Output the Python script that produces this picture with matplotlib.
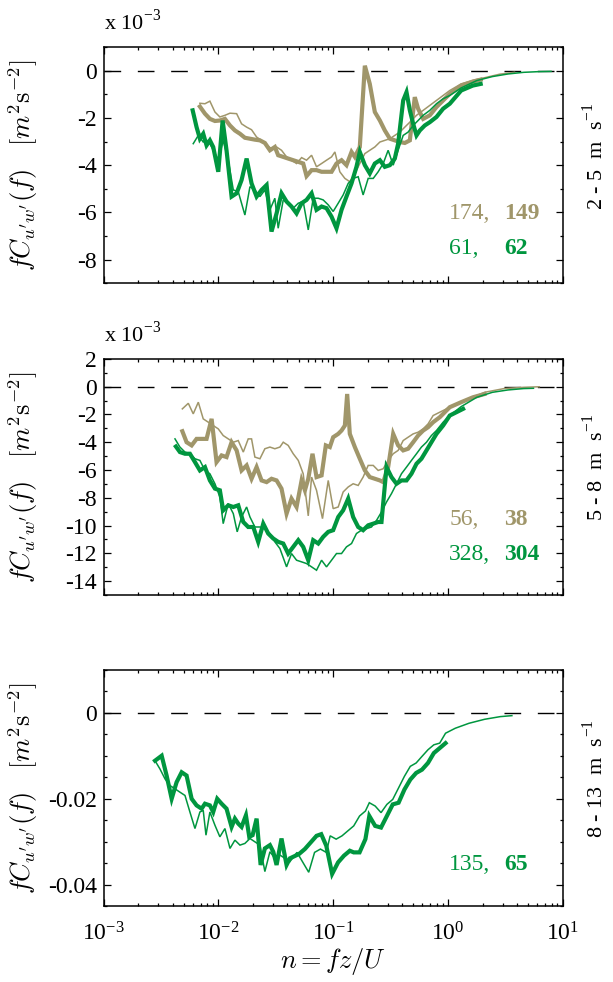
import numpy as np
import matplotlib
matplotlib.use('Agg')
import matplotlib.pyplot as plt
from matplotlib.ticker import MultipleLocator, LogLocator, NullFormatter

plt.rcParams['font.family'] = ['Liberation Serif', 'DejaVu Serif']
plt.rcParams['mathtext.fontset'] = 'cm'
plt.rcParams['axes.unicode_minus'] = False

TAN = '#A0966A'
GREEN = '#00963F'

# ---- 2 - 5 m/s  (cospectra in units of 1e-3 m2 s-2), x given as log10(n)
p1_tan_thin_lg = [-2.161, -2.117, -2.074, -2.030, -1.987, -1.943, -1.899, -1.841, -1.798, -1.754,
                  -1.711, -1.667, -1.624, -1.580, -1.537, -1.493, -1.450, -1.406, -1.363, -1.319,
                  -1.275, -1.232, -1.188, -1.145, -1.101, -1.058, -1.014, -0.985, -0.942, -0.898,
                  -0.855, -0.811, -0.768, -0.724, -0.681, -0.637, -0.593, -0.550, -0.506, -0.463,
                  -0.419, -0.376, -0.332, -0.274, -0.216, -0.158, -0.100, -0.042, 0.016, 0.115,
                  0.234, 0.336, 0.45, 0.58]
p1_tan_thin = [-1.38, -1.40, -1.29, -1.75, -1.96, -1.89, -1.80, -1.82, -2.25, -2.39,
               -2.50, -2.81, -2.95, -3.16, -3.30, -3.23, -3.37, -3.65, -3.79, -3.93,
               -3.68, -3.79, -3.58, -4.07, -3.93, -3.79, -3.65, -3.44, -4.28, -4.56,
               -4.70, -4.35, -3.93, -3.51, -3.37, -3.23, -3.02, -2.95, -2.88, -2.74,
               -2.60, -2.39, -2.18, -1.89, -1.68, -1.47, -1.26, -1.05, -0.84, -0.56,
               -0.39, -0.28, -0.15, -0.07]
p1_tan_thick_lg = [-2.161, -2.117, -2.074, -2.030, -1.987, -1.943, -1.899, -1.856, -1.812, -1.769,
                   -1.725, -1.682, -1.638, -1.595, -1.551, -1.508, -1.479, -1.435, -1.392, -1.348,
                   -1.304, -1.261, -1.232, -1.188, -1.145, -1.101, -1.058, -1.014, -0.971, -0.927,
                   -0.884, -0.840, -0.811, -0.768, -0.724, -0.681, -0.637, -0.593, -0.550, -0.506,
                   -0.463, -0.419, -0.376, -0.332, -0.289, -0.260, -0.216, -0.158, -0.100, -0.042,
                   0.016, 0.115, 0.217, 0.285]
p1_tan_thick = [-1.52, -1.82, -2.04, -2.13, -2.11, -2.04, -2.32, -2.53, -2.67, -2.84,
                -2.88, -2.92, -2.95, -3.06, -3.37, -3.23, -3.58, -3.65, -3.72, -3.79,
                -3.86, -3.93, -4.46, -4.21, -4.21, -4.28, -4.28, -4.28, -3.93, -3.79,
                -4.00, -3.44, -3.65, -3.23, 0.21, -0.56, -1.75, -2.11, -2.53, -2.88,
                -2.95, -3.02, -3.06, -2.95, -1.12, -1.61, -2.04, -1.89, -1.54, -1.26,
                -0.98, -0.63, -0.46, -0.38]
p1_green_thin_lg = [-2.219, -2.175, -2.132, -2.088, -2.045, -2.001, -1.958, -1.914, -1.870, -1.827,
                    -1.769, -1.725, -1.682, -1.638, -1.595, -1.551, -1.508, -1.479, -1.435, -1.392,
                    -1.348, -1.304, -1.261, -1.217, -1.174, -1.130, -1.087, -1.043, -1.000, -0.956,
                    -0.913, -0.869, -0.826, -0.782, -0.739, -0.695, -0.651, -0.608, -0.564, -0.521,
                    -0.477, -0.434, -0.390, -0.347, -0.303, -0.260, -0.216, -0.158, -0.100, -0.042,
                    0.016, 0.115, 0.251, 0.387, 0.523, 0.660, 0.796, 0.898]
p1_green_thin = [-3.09, -2.74, -3.02, -2.95, -3.37, -3.79, -2.95, -3.79, -5.05, -5.12,
                 -6.11, -4.91, -5.05, -5.33, -5.05, -5.89, -5.40, -6.67, -5.47, -5.61,
                 -5.82, -5.61, -5.54, -6.74, -5.40, -5.40, -5.47, -5.68, -5.96, -5.61,
                 -5.26, -4.77, -4.56, -4.49, -5.26, -4.56, -4.56, -4.28, -3.93, -3.37,
                 -4.00, -3.37, -2.74, -2.60, -2.32, -2.11, -1.89, -1.68, -1.40, -1.19,
                 -1.05, -0.73, -0.42, -0.25, -0.14, -0.07, -0.04, -0.03]
p1_green_thick_lg = [-2.224, -2.190, -2.161, -2.132, -2.103, -2.074, -2.045, -2.001, -1.963, -1.929,
                     -1.885, -1.841, -1.798, -1.754, -1.711, -1.667, -1.624, -1.580, -1.537, -1.493,
                     -1.450, -1.406, -1.363, -1.319, -1.275, -1.232, -1.188, -1.145, -1.101, -1.058,
                     -1.014, -0.971, -0.927, -0.884, -0.840, -0.797, -0.768, -0.724, -0.681, -0.637,
                     -0.593, -0.550, -0.506, -0.463, -0.434, -0.390, -0.361, -0.332, -0.303, -0.274,
                     -0.245, -0.202, -0.158, -0.100, -0.042, 0.016, 0.115, 0.217, 0.285]
p1_green_thick = [-1.68, -2.39, -2.88, -2.67, -3.16, -2.95, -3.23, -4.28, -2.11, -3.37,
                  -5.33, -5.19, -4.63, -3.72, -4.77, -5.33, -5.05, -4.84, -6.81, -6.04,
                  -5.19, -5.54, -5.75, -6.04, -5.61, -5.47, -5.19, -5.89, -5.75, -5.82,
                  -6.18, -6.67, -5.89, -5.33, -4.77, -4.07, -3.44, -4.00, -4.35, -3.93,
                  -3.79, -4.07, -4.00, -3.72, -3.09, -1.26, -0.91, -1.68, -2.25, -2.74,
                  -2.53, -2.32, -2.18, -1.96, -1.61, -1.40, -0.84, -0.63, -0.56]

# ---- 5 - 8 m/s  (1e-3 m2 s-2)
p2_tan_thin_lg = [-2.314, -2.262, -2.219, -2.175, -2.132, -2.088, -2.045, -2.001, -1.958, -1.914,
                  -1.870, -1.827, -1.783, -1.740, -1.711, -1.682, -1.638, -1.595, -1.551, -1.508,
                  -1.464, -1.435, -1.392, -1.348, -1.304, -1.261, -1.217, -1.188, -1.145, -1.093,
                  -1.043, -1.000, -0.956, -0.913, -0.869, -0.826, -0.782, -0.739, -0.695, -0.651,
                  -0.608, -0.564, -0.521, -0.477, -0.434, -0.390, -0.347, -0.303, -0.260, -0.216,
                  -0.173, -0.129, -0.071, -0.013, 0.016, 0.183, 0.319, 0.489, 0.660, 0.796]
p2_tan_thin = [-1.60, -1.20, -1.96, -1.12, -2.32, -2.56, -2.80, -3.04, -3.52, -3.76,
               -4.00, -3.88, -4.71, -3.76, -3.76, -5.07, -5.19, -4.47, -4.35, -4.47,
               -4.35, -4.00, -4.23, -4.83, -5.31, -6.27, -9.30, -6.51, -7.46, -9.50,
               -6.75, -8.78, -8.66, -7.58, -7.22, -6.99, -7.11, -6.51, -5.67, -5.67,
               -6.03, -5.91, -5.31, -4.83, -4.59, -3.88, -3.64, -3.40, -3.28, -3.04,
               -2.68, -2.08, -1.84, -1.60, -1.44, -0.89, -0.41, -0.14, -0.05, -0.01]
p2_tan_thick_lg = [-2.314, -2.277, -2.233, -2.190, -2.146, -2.103, -2.059, -2.016, -1.972, -1.929,
                   -1.885, -1.841, -1.798, -1.754, -1.711, -1.667, -1.624, -1.580, -1.537, -1.493,
                   -1.450, -1.406, -1.363, -1.319, -1.275, -1.246, -1.217, -1.180, -1.145, -1.101,
                   -1.064, -1.029, -1.000, -0.956, -0.927, -0.898, -0.878, -0.855, -0.811, -0.768,
                   -0.724, -0.681, -0.637, -0.593, -0.564, -0.521, -0.477, -0.434, -0.390, -0.347,
                   -0.303, -0.260, -0.216, -0.173, -0.129, -0.071, -0.013, 0.016, 0.115, 0.217,
                   0.319]
p2_tan_thick = [-3.21, -4.00, -4.23, -3.76, -3.76, -3.76, -2.32, -5.43, -4.95, -5.07,
                -4.00, -4.59, -6.03, -5.67, -6.63, -5.79, -6.75, -6.87, -6.63, -6.75,
                -7.34, -9.14, -8.06, -8.66, -6.75, -7.46, -6.63, -4.83, -6.51, -6.39,
                -4.23, -4.35, -3.64, -3.40, -3.16, -2.80, -0.53, -3.40, -4.35, -5.19,
                -6.03, -6.51, -6.63, -6.75, -6.87, -5.79, -3.40, -4.23, -4.59, -4.47,
                -4.00, -3.52, -3.16, -2.92, -2.56, -2.20, -1.72, -1.48, -1.12, -0.77,
                -0.53]
p2_green_thin_lg = [-2.378, -2.335, -2.291, -2.248, -2.204, -2.161, -2.117, -2.074, -2.030, -1.987,
                    -1.958, -1.914, -1.870, -1.836, -1.798, -1.754, -1.725, -1.682, -1.638, -1.595,
                    -1.551, -1.508, -1.464, -1.406, -1.363, -1.319, -1.275, -1.232, -1.188, -1.145,
                    -1.101, -1.058, -1.014, -0.971, -0.927, -0.884, -0.840, -0.797, -0.753, -0.710,
                    -0.666, -0.622, -0.579, -0.535, -0.492, -0.448, -0.405, -0.361, -0.318, -0.274,
                    -0.231, -0.187, -0.144, -0.100, -0.042, 0.016, 0.115, 0.251, 0.387, 0.523,
                    0.660, 0.745]
p2_green_thin = [-3.76, -4.35, -4.71, -4.83, -5.19, -5.31, -6.03, -6.27, -6.99, -7.94,
                 -9.86, -8.42, -9.14, -10.45, -9.38, -8.66, -9.38, -10.10, -10.10, -10.22,
                 -10.57, -11.17, -11.65, -12.97, -12.01, -12.49, -12.61, -12.73, -12.97, -13.21,
                 -12.49, -12.97, -12.49, -12.01, -12.01, -11.53, -11.29, -10.57, -10.33, -10.22,
                 -10.10, -9.62, -9.02, -8.30, -7.70, -6.99, -6.27, -5.79, -5.31, -4.83,
                 -4.35, -4.00, -3.52, -3.16, -2.56, -2.08, -1.44, -0.77, -0.41, -0.24,
                 -0.14, -0.12]
p2_green_thick_lg = [-2.370, -2.335, -2.291, -2.248, -2.204, -2.161, -2.117, -2.074, -2.030, -1.987,
                     -1.958, -1.914, -1.870, -1.827, -1.783, -1.740, -1.696, -1.653, -1.609, -1.566,
                     -1.522, -1.479, -1.435, -1.392, -1.348, -1.304, -1.261, -1.217, -1.174, -1.130,
                     -1.087, -1.043, -1.000, -0.956, -0.913, -0.869, -0.826, -0.782, -0.739, -0.695,
                     -0.651, -0.608, -0.579, -0.535, -0.492, -0.448, -0.405, -0.361, -0.318, -0.274,
                     -0.231, -0.187, -0.144, -0.100, -0.042, 0.016, 0.132]
p2_green_thick = [-4.31, -4.71, -4.83, -4.83, -5.43, -6.03, -5.79, -6.75, -7.34, -7.46,
                  -8.90, -8.54, -8.66, -8.54, -9.74, -10.10, -10.10, -11.17, -9.86, -10.57,
                  -10.93, -11.17, -11.29, -12.01, -11.53, -11.05, -11.53, -12.49, -11.05, -11.29,
                  -10.81, -10.45, -10.33, -9.38, -8.90, -8.06, -9.38, -10.10, -10.33, -9.98,
                  -9.86, -9.74, -9.74, -5.79, -6.51, -6.99, -6.75, -6.75, -6.27, -5.55,
                  -5.19, -4.59, -4.00, -3.40, -2.80, -2.08, -1.60]

# ---- 8 - 13 m/s  (m2 s-2)
p3_green_thin_lg = [-2.552, -2.509, -2.465, -2.422, -2.378, -2.335, -2.291, -2.248, -2.204, -2.161,
                    -2.132, -2.108, -2.074, -2.030, -1.987, -1.943, -1.899, -1.856, -1.812, -1.769,
                    -1.725, -1.682, -1.638, -1.595, -1.551, -1.508, -1.464, -1.420, -1.377, -1.315,
                    -1.264, -1.213, -1.162, -1.111, -1.060, -1.026, -0.974, -0.923, -0.872, -0.821,
                    -0.770, -0.719, -0.685, -0.634, -0.583, -0.532, -0.481, -0.430, -0.379, -0.328,
                    -0.277, -0.226, -0.174, -0.123, -0.072, -0.021, 0.064, 0.183, 0.319, 0.455,
                    0.557]
p3_green_thin = [-0.01118, -0.01310, -0.01541, -0.01696, -0.01773, -0.01850, -0.01927, -0.02312,
                 -0.02697, -0.02312, -0.02274, -0.02852, -0.02312, -0.02620, -0.02890, -0.02697,
                 -0.03160, -0.02967, -0.03083, -0.03044, -0.02929, -0.03006, -0.03083, -0.03699,
                 -0.03237, -0.03391, -0.03314, -0.03391, -0.03468, -0.03252, -0.03484, -0.03715,
                 -0.03252, -0.03175, -0.03252, -0.02867, -0.02944, -0.02867, -0.02751, -0.02636,
                 -0.02405, -0.02289, -0.02096, -0.02173, -0.02327, -0.02135, -0.02019, -0.01750,
                 -0.01480, -0.01249, -0.01171, -0.01017, -0.00863, -0.00748, -0.00709, -0.00478,
                 -0.00362, -0.00247, -0.00154, -0.00092, -0.00069]
p3_green_thick_lg = [-2.552, -2.494, -2.451, -2.407, -2.364, -2.320, -2.277, -2.233, -2.190, -2.146,
                     -2.117, -2.074, -2.045, -2.010, -1.972, -1.929, -1.885, -1.856, -1.827, -1.798,
                     -1.760, -1.731, -1.702, -1.667, -1.632, -1.595, -1.551, -1.522, -1.493, -1.450,
                     -1.406, -1.377, -1.298, -1.247, -1.196, -1.145, -1.104, -1.060, -1.009, -0.957,
                     -0.906, -0.855, -0.821, -0.770, -0.719, -0.685, -0.634, -0.583, -0.532, -0.481,
                     -0.430, -0.379, -0.328, -0.277, -0.226, -0.174, -0.123, -0.072, -0.021]
p3_green_thick = [-0.01118, -0.01002, -0.01464, -0.02004, -0.01618, -0.01387, -0.01464, -0.02004,
                  -0.02158, -0.02235, -0.02119, -0.02158, -0.02312, -0.02004, -0.02119, -0.02235,
                  -0.02659, -0.02466, -0.02582, -0.02659, -0.02389, -0.02890, -0.02852, -0.02466,
                  -0.03545, -0.03160, -0.03083, -0.03237, -0.03545, -0.02929, -0.03545, -0.03391,
                  -0.03291, -0.03175, -0.03021, -0.02867, -0.02828, -0.03098, -0.03753, -0.03484,
                  -0.03329, -0.03214, -0.03252, -0.03252, -0.02944, -0.02405, -0.02636, -0.02674,
                  -0.02405, -0.02135, -0.02096, -0.01788, -0.01557, -0.01403, -0.01326, -0.01171,
                  -0.00940, -0.00825, -0.00709]

THIN, THICK = 1.1, 3.0

panels = [
    dict(series=[(p1_tan_thin_lg, p1_tan_thin, TAN, THIN), (p1_tan_thick_lg, p1_tan_thick, TAN, THICK),
                 (p1_green_thin_lg, p1_green_thin, GREEN, THIN), (p1_green_thick_lg, p1_green_thick, GREEN, THICK)],
         ylim=(-9, 1), yticks=[-8, -6, -4, -2, 0], minor=1, ylabels=['-8', '-6', '-4', '-2', '0'],
         counts=[(TAN, '174,', '149', 0.297), (GREEN, '61,', '62', 0.149)],
         wind='2 - 5  m  s$^{\\mathdefault{-1}}$', scale=True),
    dict(series=[(p2_tan_thin_lg, p2_tan_thin, TAN, THIN), (p2_tan_thick_lg, p2_tan_thick, TAN, THICK),
                 (p2_green_thin_lg, p2_green_thin, GREEN, THIN), (p2_green_thick_lg, p2_green_thick, GREEN, THICK)],
         ylim=(-15, 2), yticks=list(range(-14, 3, 2)), minor=1,
         ylabels=[str(v) for v in range(-14, 3, 2)],
         counts=[(TAN, '56,', '38', 0.318), (GREEN, '328,', '304', 0.170)],
         wind='5 - 8  m  s$^{\\mathdefault{-1}}$', scale=True),
    dict(series=[(p3_green_thin_lg, p3_green_thin, GREEN, THIN), (p3_green_thick_lg, p3_green_thick, GREEN, THICK)],
         ylim=(-0.045, 0.01), yticks=[-0.04, -0.02, 0], minor=0.005, ylabels=['-0.04', '-0.02', '0'],
         counts=[(GREEN, '135,', '65', 0.174)],
         wind='8 - 13  m  s$^{\\mathdefault{-1}}$', scale=False),
]

fig = plt.figure(figsize=(6.13, 9.82), dpi=100)
bottoms = [0.7115, 0.394, 0.0774]

for k, (p, b) in enumerate(zip(panels, bottoms)):
    ax = fig.add_axes([0.169, b, 0.749, 0.2406])
    ax.axhline(0, color='k', lw=1.0, dashes=(12, 12), zorder=1)
    for lg, vals, col, lw in p['series']:
        ax.plot(10 ** np.array(lg), vals, color=col, lw=lw, solid_joinstyle='miter', zorder=2)
    ax.set_xscale('log')
    ax.set_xlim(1e-3, 1e1)
    ax.set_ylim(*p['ylim'])
    ax.set_yticks(p['yticks'])
    ax.set_yticklabels(p['ylabels'])
    ax.yaxis.set_minor_locator(MultipleLocator(p['minor']))
    ax.xaxis.set_major_locator(LogLocator(base=10, numticks=10))
    ax.xaxis.set_minor_locator(LogLocator(base=10, subs=np.arange(2, 10), numticks=20))
    ax.xaxis.set_minor_formatter(NullFormatter())
    ax.tick_params(which='both', direction='in', top=True, right=True, labelsize=17, width=0.9)
    ax.tick_params(which='major', length=5)
    ax.tick_params(which='minor', length=2.5)
    ax.tick_params(axis='y', pad=5)
    ax.tick_params(axis='x', pad=12)
    for s in ax.spines.values():
        s.set_linewidth(1.1)
    if k < 2:
        ax.tick_params(labelbottom=False)
    else:
        ax.set_xlabel('$n = fz/U$', fontsize=19, labelpad=0)
    ax.set_ylabel(r"$fC_{u'w'}(f)\quad[m^2\mathrm{s}^{-2}]$", fontsize=19)
    ax.yaxis.set_label_coords(-0.138, 0.5)
    if p['scale']:
        ax.text(0.0, 1.05, 'x 10$^{\\mathdefault{-3}}$', transform=ax.transAxes, fontsize=16,
                ha='left', va='bottom')
    # wind speed class, written down the right-hand side
    ax.text(1.072, 0.54, p['wind'], transform=ax.transAxes, rotation=90, fontsize=16,
            ha='center', va='center')
    for col, n1, n2, yy in p['counts']:
        ax.text(0.753, yy, n1, color=col, fontsize=17, transform=ax.transAxes, va='center', ha='left')
        ax.text(0.872, yy, n2, color=col, fontsize=17, fontweight='bold', transform=ax.transAxes,
                va='center', ha='left')

fig.savefig('out.png', dpi=100)
